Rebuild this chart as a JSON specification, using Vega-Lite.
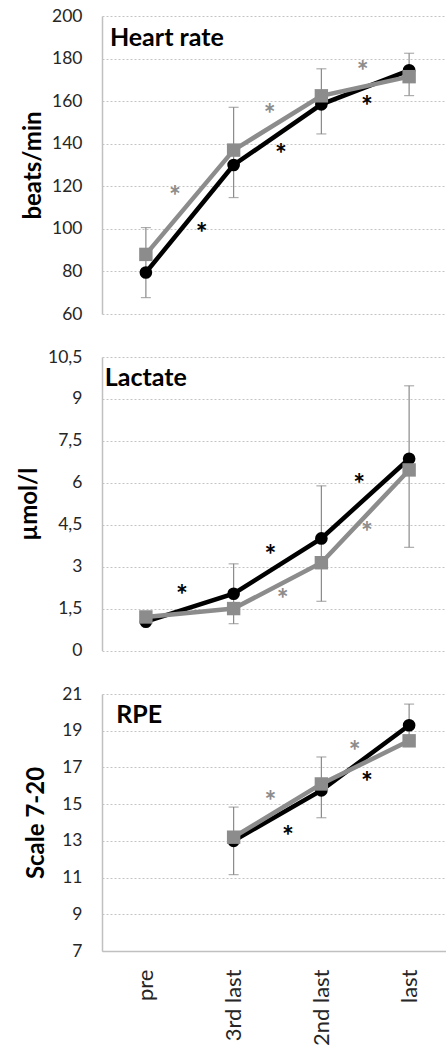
{
  "$schema": "https://vega.github.io/schema/vega-lite/v6.json",
  "background": "white",
  "padding": {"left": 17, "top": 7, "right": 0, "bottom": 0},
  "config": {
    "view": {"stroke": null},
    "font": "Lato",
    "axis": {"labelFont": "Lato", "titleFont": "Lato", "labelOverlap": false}
  },
  "datasets": {
    "hr": [
      {"time": "pre", "group": "A", "value": 79.5},
      {"time": "3rd last", "group": "A", "value": 130},
      {"time": "2nd last", "group": "A", "value": 158.5},
      {"time": "last", "group": "A", "value": 174.5},
      {"time": "pre", "group": "B", "value": 88},
      {"time": "3rd last", "group": "B", "value": 137},
      {"time": "2nd last", "group": "B", "value": 162.5},
      {"time": "last", "group": "B", "value": 171.5}
    ],
    "hr_err": [
      {"time": "pre", "lo": 67.7, "hi": 100.6},
      {"time": "3rd last", "lo": 114.7, "hi": 157.1},
      {"time": "2nd last", "lo": 144.6, "hi": 175.2},
      {"time": "last", "lo": 162.6, "hi": 182.5}
    ],
    "hr_stars": [
      {"pos": 0.33, "group": "B", "value": 117.9},
      {"pos": 1.41, "group": "B", "value": 156.3},
      {"pos": 2.47, "group": "B", "value": 176.4},
      {"pos": 0.635, "group": "A", "value": 100.6},
      {"pos": 1.54, "group": "A", "value": 137.5},
      {"pos": 2.52, "group": "A", "value": 160.2}
    ],
    "lac": [
      {"time": "pre", "group": "A", "value": 1.03},
      {"time": "3rd last", "group": "A", "value": 2.03},
      {"time": "2nd last", "group": "A", "value": 4.01},
      {"time": "last", "group": "A", "value": 6.86},
      {"time": "pre", "group": "B", "value": 1.2},
      {"time": "3rd last", "group": "B", "value": 1.5},
      {"time": "2nd last", "group": "B", "value": 3.14},
      {"time": "last", "group": "B", "value": 6.46}
    ],
    "lac_err": [
      {"time": "3rd last", "lo": 0.96, "hi": 3.1},
      {"time": "2nd last", "lo": 1.76, "hi": 5.89},
      {"time": "last", "lo": 3.69, "hi": 9.47}
    ],
    "lac_stars": [
      {"pos": 0.41, "group": "A", "value": 2.15},
      {"pos": 1.42, "group": "A", "value": 3.58},
      {"pos": 2.43, "group": "A", "value": 6.13},
      {"pos": 1.56, "group": "B", "value": 2.03},
      {"pos": 2.52, "group": "B", "value": 4.41}
    ],
    "rpe": [
      {"time": "3rd last", "group": "A", "value": 13.0},
      {"time": "2nd last", "group": "A", "value": 15.75},
      {"time": "last", "group": "A", "value": 19.3},
      {"time": "3rd last", "group": "B", "value": 13.2},
      {"time": "2nd last", "group": "B", "value": 16.1},
      {"time": "last", "group": "B", "value": 18.45}
    ],
    "rpe_err": [
      {"time": "3rd last", "lo": 11.16, "hi": 14.84},
      {"time": "2nd last", "lo": 14.26, "hi": 17.57},
      {"time": "last", "lo": 18.45, "hi": 20.45}
    ],
    "rpe_stars": [
      {"pos": 1.42, "group": "B", "value": 15.42},
      {"pos": 2.38, "group": "B", "value": 18.16},
      {"pos": 1.62, "group": "A", "value": 13.53},
      {"pos": 2.52, "group": "A", "value": 16.48}
    ],
    "panel_titles": [
      {"panel": "hr", "label": "Heart rate", "pos": -0.41, "value": 186.1},
      {"panel": "lac", "label": "Lactate", "pos": -0.468, "value": 9.46},
      {"panel": "rpe", "label": "RPE", "pos": -0.339, "value": 19.4}
    ]
  },
  "bounds": "flush",
  "spacing": 43,
  "vconcat": [
    {
      "width": 351,
      "height": 298,
      "resolve": {"scale": {"x": "independent"}},
      "layer": [
        {
          "data": {"name": "hr_err"},
          "mark": {"type": "rule", "color": "#8a8a8a", "strokeWidth": 1.2},
          "encoding": {
            "x": {"field": "time", "type": "ordinal", "scale": {"type": "point", "padding": 0.5, "domain": ["pre", "3rd last", "2nd last", "last"]}, "axis": null},
            "y": {"field": "lo", "type": "quantitative", "scale": {"domain": [60, 200], "nice": false, "zero": false},
              "axis": {"values": [60, 80, 100, 120, 140, 160, 180, 200], "labelOverlap": false, "title": "beats/min", "grid": true, "gridDash": [2, 2], "gridColor": "#c4c4c4", "ticks": false, "domain": true, "domainColor": "#c0c0c0", "domainWidth": 1.5, "labelFontSize": 17.5, "labelColor": "#262626", "labelPadding": 20, "titleFontSize": 24, "titleFontWeight": "bold", "titleColor": "#000000", "titleX": -62, "titleBaseline": "alphabetic"}},
            "y2": {"field": "hi"}
          }
        },
        {
          "data": {"name": "hr_err"},
          "mark": {"type": "tick", "orient": "horizontal", "color": "#8a8a8a", "thickness": 1.2, "size": 10},
          "encoding": {
            "x": {"field": "time", "type": "ordinal", "scale": {"type": "point", "padding": 0.5, "domain": ["pre", "3rd last", "2nd last", "last"]}, "axis": null},
            "y": {"field": "lo", "type": "quantitative"}
          }
        },
        {
          "data": {"name": "hr_err"},
          "mark": {"type": "tick", "orient": "horizontal", "color": "#8a8a8a", "thickness": 1.2, "size": 10},
          "encoding": {
            "x": {"field": "time", "type": "ordinal", "scale": {"type": "point", "padding": 0.5, "domain": ["pre", "3rd last", "2nd last", "last"]}, "axis": null},
            "y": {"field": "hi", "type": "quantitative"}
          }
        },
        {
          "data": {"name": "hr"},
          "transform": [{"filter": "datum.group === 'A'"}],
          "mark": {"type": "line", "color": "#000000", "strokeWidth": 4.5},
          "encoding": {
            "x": {"field": "time", "type": "ordinal", "scale": {"type": "point", "padding": 0.5, "domain": ["pre", "3rd last", "2nd last", "last"]}, "axis": null},
            "y": {"field": "value", "type": "quantitative"}
          }
        },
        {
          "data": {"name": "hr"},
          "transform": [{"filter": "datum.group === 'A'"}],
          "mark": {"type": "point", "shape": "circle", "filled": true, "color": "#000000", "size": 160, "opacity": 1},
          "encoding": {
            "x": {"field": "time", "type": "ordinal", "scale": {"type": "point", "padding": 0.5, "domain": ["pre", "3rd last", "2nd last", "last"]}, "axis": null},
            "y": {"field": "value", "type": "quantitative"}
          }
        },
        {
          "data": {"name": "hr"},
          "transform": [{"filter": "datum.group === 'B'"}],
          "mark": {"type": "line", "color": "#8c8c8c", "strokeWidth": 4.5},
          "encoding": {
            "x": {"field": "time", "type": "ordinal", "scale": {"type": "point", "padding": 0.5, "domain": ["pre", "3rd last", "2nd last", "last"]}, "axis": null},
            "y": {"field": "value", "type": "quantitative"}
          }
        },
        {
          "data": {"name": "hr"},
          "transform": [{"filter": "datum.group === 'B'"}],
          "mark": {"type": "point", "shape": "square", "filled": true, "color": "#8c8c8c", "size": 180, "opacity": 1},
          "encoding": {
            "x": {"field": "time", "type": "ordinal", "scale": {"type": "point", "padding": 0.5, "domain": ["pre", "3rd last", "2nd last", "last"]}, "axis": null},
            "y": {"field": "value", "type": "quantitative"}
          }
        },
        {
          "data": {"name": "hr_stars"},
          "mark": {"type": "text", "text": "*", "font": "Lato", "fontSize": 28, "fontWeight": "bold", "baseline": "middle", "dy": 7},
          "encoding": {
            "x": {"field": "pos", "type": "quantitative", "scale": {"domain": [-0.5, 3.5], "nice": false, "zero": false}, "axis": null},
            "y": {"field": "value", "type": "quantitative"},
            "color": {"field": "group", "type": "nominal", "scale": {"domain": ["A", "B"], "range": ["#000000", "#8c8c8c"]}, "legend": null}
          }
        },
        {
          "data": {"name": "panel_titles"},
          "transform": [{"filter": "datum.panel === 'hr'"}],
          "mark": {"type": "text", "font": "Lato", "fontSize": 25, "fontWeight": "bold", "color": "#000000", "align": "left", "baseline": "alphabetic"},
          "encoding": {
            "x": {"field": "pos", "type": "quantitative", "scale": {"domain": [-0.5, 3.5], "nice": false, "zero": false}, "axis": null},
            "y": {"field": "value", "type": "quantitative"},
            "text": {"field": "label"}
          }
        }
      ]
    },
    {
      "width": 351,
      "height": 293.5,
      "resolve": {"scale": {"x": "independent"}},
      "layer": [
        {
          "data": {"name": "lac_err"},
          "mark": {"type": "rule", "color": "#8a8a8a", "strokeWidth": 1.2},
          "encoding": {
            "x": {"field": "time", "type": "ordinal", "scale": {"type": "point", "padding": 0.5, "domain": ["pre", "3rd last", "2nd last", "last"]}, "axis": null},
            "y": {"field": "lo", "type": "quantitative", "scale": {"domain": [0, 10.5], "nice": false, "zero": false},
              "axis": {"values": [0, 1.5, 3, 4.5, 6, 7.5, 9, 10.5], "labelOverlap": false, "labelExpr": "replace(toString(datum.value), '.', ',')", "title": "µmol/l", "grid": true, "gridDash": [2, 2], "gridColor": "#c4c4c4", "ticks": false, "domain": true, "domainColor": "#c0c0c0", "domainWidth": 1.5, "labelFontSize": 17.5, "labelColor": "#262626", "labelPadding": 20, "titleFontSize": 24, "titleFontWeight": "bold", "titleColor": "#000000", "titleX": -66, "titleBaseline": "alphabetic"}},
            "y2": {"field": "hi"}
          }
        },
        {
          "data": {"name": "lac_err"},
          "mark": {"type": "tick", "orient": "horizontal", "color": "#8a8a8a", "thickness": 1.2, "size": 10},
          "encoding": {
            "x": {"field": "time", "type": "ordinal", "scale": {"type": "point", "padding": 0.5, "domain": ["pre", "3rd last", "2nd last", "last"]}, "axis": null},
            "y": {"field": "lo", "type": "quantitative"}
          }
        },
        {
          "data": {"name": "lac_err"},
          "mark": {"type": "tick", "orient": "horizontal", "color": "#8a8a8a", "thickness": 1.2, "size": 10},
          "encoding": {
            "x": {"field": "time", "type": "ordinal", "scale": {"type": "point", "padding": 0.5, "domain": ["pre", "3rd last", "2nd last", "last"]}, "axis": null},
            "y": {"field": "hi", "type": "quantitative"}
          }
        },
        {
          "data": {"name": "lac"},
          "transform": [{"filter": "datum.group === 'A'"}],
          "mark": {"type": "line", "color": "#000000", "strokeWidth": 4.5},
          "encoding": {
            "x": {"field": "time", "type": "ordinal", "scale": {"type": "point", "padding": 0.5, "domain": ["pre", "3rd last", "2nd last", "last"]}, "axis": null},
            "y": {"field": "value", "type": "quantitative"}
          }
        },
        {
          "data": {"name": "lac"},
          "transform": [{"filter": "datum.group === 'A'"}],
          "mark": {"type": "point", "shape": "circle", "filled": true, "color": "#000000", "size": 160, "opacity": 1},
          "encoding": {
            "x": {"field": "time", "type": "ordinal", "scale": {"type": "point", "padding": 0.5, "domain": ["pre", "3rd last", "2nd last", "last"]}, "axis": null},
            "y": {"field": "value", "type": "quantitative"}
          }
        },
        {
          "data": {"name": "lac"},
          "transform": [{"filter": "datum.group === 'B'"}],
          "mark": {"type": "line", "color": "#8c8c8c", "strokeWidth": 4.5},
          "encoding": {
            "x": {"field": "time", "type": "ordinal", "scale": {"type": "point", "padding": 0.5, "domain": ["pre", "3rd last", "2nd last", "last"]}, "axis": null},
            "y": {"field": "value", "type": "quantitative"}
          }
        },
        {
          "data": {"name": "lac"},
          "transform": [{"filter": "datum.group === 'B'"}],
          "mark": {"type": "point", "shape": "square", "filled": true, "color": "#8c8c8c", "size": 180, "opacity": 1},
          "encoding": {
            "x": {"field": "time", "type": "ordinal", "scale": {"type": "point", "padding": 0.5, "domain": ["pre", "3rd last", "2nd last", "last"]}, "axis": null},
            "y": {"field": "value", "type": "quantitative"}
          }
        },
        {
          "data": {"name": "lac_stars"},
          "mark": {"type": "text", "text": "*", "font": "Lato", "fontSize": 28, "fontWeight": "bold", "baseline": "middle", "dy": 7},
          "encoding": {
            "x": {"field": "pos", "type": "quantitative", "scale": {"domain": [-0.5, 3.5], "nice": false, "zero": false}, "axis": null},
            "y": {"field": "value", "type": "quantitative"},
            "color": {"field": "group", "type": "nominal", "scale": {"domain": ["A", "B"], "range": ["#000000", "#8c8c8c"]}, "legend": null}
          }
        },
        {
          "data": {"name": "panel_titles"},
          "transform": [{"filter": "datum.panel === 'lac'"}],
          "mark": {"type": "text", "font": "Lato", "fontSize": 25, "fontWeight": "bold", "color": "#000000", "align": "left", "baseline": "alphabetic"},
          "encoding": {
            "x": {"field": "pos", "type": "quantitative", "scale": {"domain": [-0.5, 3.5], "nice": false, "zero": false}, "axis": null},
            "y": {"field": "value", "type": "quantitative"},
            "text": {"field": "label"}
          }
        }
      ]
    },
    {
      "width": 351,
      "height": 257,
      "resolve": {"scale": {"x": "independent"}},
      "layer": [
        {
          "data": {"name": "rpe_err"},
          "mark": {"type": "rule", "color": "#8a8a8a", "strokeWidth": 1.2},
          "encoding": {
            "x": {"field": "time", "type": "ordinal", "scale": {"type": "point", "padding": 0.5, "domain": ["pre", "3rd last", "2nd last", "last"]},
              "axis": {"title": null, "labelAngle": 270, "labelAlign": "right", "labelBaseline": "middle", "labelFontSize": 22, "labelColor": "#262626", "labelPadding": 18, "ticks": false, "domain": true, "domainColor": "#c0c0c0", "domainWidth": 1.5, "grid": false}},
            "y": {"field": "lo", "type": "quantitative", "scale": {"domain": [7, 21], "nice": false, "zero": false},
              "axis": {"values": [7, 9, 11, 13, 15, 17, 19, 21], "labelOverlap": false, "tickCount": 8, "title": "Scale 7-20", "grid": true, "gridDash": [2, 2], "gridColor": "#c4c4c4", "ticks": false, "domain": true, "domainColor": "#c0c0c0", "domainWidth": 1.5, "labelFontSize": 17.5, "labelColor": "#262626", "labelPadding": 20, "titleFontSize": 24, "titleFontWeight": "bold", "titleColor": "#000000", "titleX": -59, "titleBaseline": "alphabetic"}},
            "y2": {"field": "hi"}
          }
        },
        {
          "data": {"name": "rpe_err"},
          "mark": {"type": "tick", "orient": "horizontal", "color": "#8a8a8a", "thickness": 1.2, "size": 10},
          "encoding": {
            "x": {"field": "time", "type": "ordinal", "scale": {"type": "point", "padding": 0.5, "domain": ["pre", "3rd last", "2nd last", "last"]}, "axis": null},
            "y": {"field": "lo", "type": "quantitative"}
          }
        },
        {
          "data": {"name": "rpe_err"},
          "mark": {"type": "tick", "orient": "horizontal", "color": "#8a8a8a", "thickness": 1.2, "size": 10},
          "encoding": {
            "x": {"field": "time", "type": "ordinal", "scale": {"type": "point", "padding": 0.5, "domain": ["pre", "3rd last", "2nd last", "last"]}, "axis": null},
            "y": {"field": "hi", "type": "quantitative"}
          }
        },
        {
          "data": {"name": "rpe"},
          "transform": [{"filter": "datum.group === 'A'"}],
          "mark": {"type": "line", "color": "#000000", "strokeWidth": 4.5},
          "encoding": {
            "x": {"field": "time", "type": "ordinal", "scale": {"type": "point", "padding": 0.5, "domain": ["pre", "3rd last", "2nd last", "last"]}, "axis": null},
            "y": {"field": "value", "type": "quantitative"}
          }
        },
        {
          "data": {"name": "rpe"},
          "transform": [{"filter": "datum.group === 'A'"}],
          "mark": {"type": "point", "shape": "circle", "filled": true, "color": "#000000", "size": 160, "opacity": 1},
          "encoding": {
            "x": {"field": "time", "type": "ordinal", "scale": {"type": "point", "padding": 0.5, "domain": ["pre", "3rd last", "2nd last", "last"]}, "axis": null},
            "y": {"field": "value", "type": "quantitative"}
          }
        },
        {
          "data": {"name": "rpe"},
          "transform": [{"filter": "datum.group === 'B'"}],
          "mark": {"type": "line", "color": "#8c8c8c", "strokeWidth": 4.5},
          "encoding": {
            "x": {"field": "time", "type": "ordinal", "scale": {"type": "point", "padding": 0.5, "domain": ["pre", "3rd last", "2nd last", "last"]}, "axis": null},
            "y": {"field": "value", "type": "quantitative"}
          }
        },
        {
          "data": {"name": "rpe"},
          "transform": [{"filter": "datum.group === 'B'"}],
          "mark": {"type": "point", "shape": "square", "filled": true, "color": "#8c8c8c", "size": 180, "opacity": 1},
          "encoding": {
            "x": {"field": "time", "type": "ordinal", "scale": {"type": "point", "padding": 0.5, "domain": ["pre", "3rd last", "2nd last", "last"]}, "axis": null},
            "y": {"field": "value", "type": "quantitative"}
          }
        },
        {
          "data": {"name": "rpe_stars"},
          "mark": {"type": "text", "text": "*", "font": "Lato", "fontSize": 28, "fontWeight": "bold", "baseline": "middle", "dy": 7},
          "encoding": {
            "x": {"field": "pos", "type": "quantitative", "scale": {"domain": [-0.5, 3.5], "nice": false, "zero": false}, "axis": null},
            "y": {"field": "value", "type": "quantitative"},
            "color": {"field": "group", "type": "nominal", "scale": {"domain": ["A", "B"], "range": ["#000000", "#8c8c8c"]}, "legend": null}
          }
        },
        {
          "data": {"name": "panel_titles"},
          "transform": [{"filter": "datum.panel === 'rpe'"}],
          "mark": {"type": "text", "font": "Lato", "fontSize": 25, "fontWeight": "bold", "color": "#000000", "align": "left", "baseline": "alphabetic"},
          "encoding": {
            "x": {"field": "pos", "type": "quantitative", "scale": {"domain": [-0.5, 3.5], "nice": false, "zero": false}, "axis": null},
            "y": {"field": "value", "type": "quantitative"},
            "text": {"field": "label"}
          }
        }
      ]
    }
  ]
}
